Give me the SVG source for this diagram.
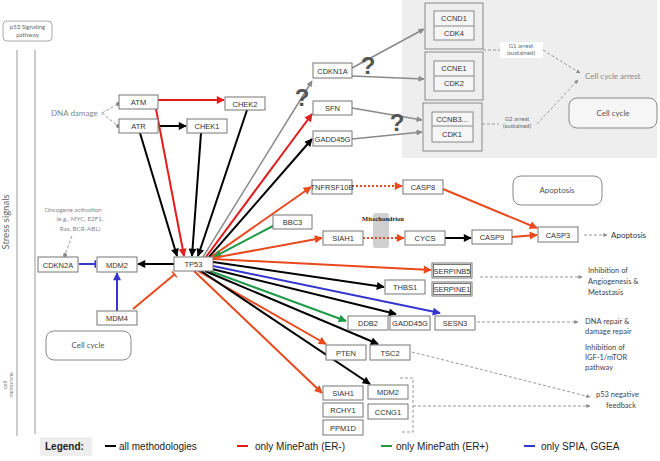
<svg xmlns="http://www.w3.org/2000/svg" width="660" height="461" viewBox="0 0 660 461">
<style>
.n rect{fill:#fff;stroke:#777;stroke-width:1}
.n text,.t{font-family:"Liberation Sans",Arial,sans-serif;font-size:7.5px;fill:#333;text-anchor:middle}
.lb{font-family:Lato,"Noto Sans",sans-serif}
.c line,.c path{fill:none;stroke-width:2}
.k{stroke:#000}.r{stroke:#e31d1d}.o{stroke:#e8491d}.g{stroke:#1f9a48}.b{stroke:#3535d0}.gr{stroke:#8a8a8a;stroke-width:1.5!important}
.d{stroke:#999;stroke-width:1!important;stroke-dasharray:3 2}
.dot{stroke-dasharray:2 2}
.q{font-family:"Liberation Sans",Arial,sans-serif;font-size:24px;font-weight:bold;fill:#555;text-anchor:middle}
.lg{font-family:"Liberation Sans",Arial,sans-serif;font-size:10px;fill:#222}
</style>
<defs>
<marker id="ak" viewBox="0 0 10 10" refX="9" refY="5" markerWidth="10" markerHeight="8" markerUnits="userSpaceOnUse" orient="auto"><path d="M0,0L10,5L0,10z" fill="#000"/></marker>
<marker id="ar" viewBox="0 0 10 10" refX="9" refY="5" markerWidth="10" markerHeight="8" markerUnits="userSpaceOnUse" orient="auto"><path d="M0,0L10,5L0,10z" fill="#e31d1d"/></marker>
<marker id="ao" viewBox="0 0 10 10" refX="9" refY="5" markerWidth="10" markerHeight="8" markerUnits="userSpaceOnUse" orient="auto"><path d="M0,0L10,5L0,10z" fill="#e8491d"/></marker>
<marker id="ag" viewBox="0 0 10 10" refX="9" refY="5" markerWidth="10" markerHeight="8" markerUnits="userSpaceOnUse" orient="auto"><path d="M0,0L10,5L0,10z" fill="#1f9a48"/></marker>
<marker id="ab" viewBox="0 0 10 10" refX="9" refY="5" markerWidth="10" markerHeight="8" markerUnits="userSpaceOnUse" orient="auto"><path d="M0,0L10,5L0,10z" fill="#3535d0"/></marker>
<marker id="agr" viewBox="0 0 10 10" refX="9" refY="5" markerWidth="8" markerHeight="6" markerUnits="userSpaceOnUse" orient="auto"><path d="M0,0L10,5L0,10z" fill="#8a8a8a"/></marker>
<marker id="ad" viewBox="0 0 10 10" refX="9" refY="5" markerWidth="5" markerHeight="4" markerUnits="userSpaceOnUse" orient="auto"><path d="M0,0L10,5L0,10z" fill="#888"/></marker>
<marker id="dt" viewBox="0 0 10 10" refX="5" refY="5" markerWidth="4" markerHeight="4" markerUnits="userSpaceOnUse"><circle cx="5" cy="5" r="5" fill="#888"/></marker>
<marker id="tb" viewBox="0 0 4 10" refX="3" refY="5" markerWidth="3" markerHeight="10" markerUnits="userSpaceOnUse" orient="auto"><path d="M2,0V10" stroke="#3535d0" stroke-width="2"/></marker>
<marker id="to" viewBox="0 0 4 10" refX="3" refY="5" markerWidth="3" markerHeight="10" markerUnits="userSpaceOnUse" orient="auto"><path d="M2,0V10" stroke="#e8491d" stroke-width="2"/></marker>
</defs>
<rect width="660" height="461" fill="#fff"/>
<rect x="402" y="0" width="255" height="158" fill="#eeeeee"/>
<rect x="3" y="21" width="49" height="20" rx="4" fill="#fff" stroke="#aaa"/>
<text class="lb" x="27.5" y="29" font-size="6" text-anchor="middle" fill="#666">p53 Signaling</text>
<text class="lb" x="27.5" y="37" font-size="6" text-anchor="middle" fill="#666">pathway</text>
<line x1="17" y1="50" x2="17" y2="436" stroke="#999"/>
<line x1="35" y1="50" x2="35" y2="434" stroke="#999"/>
<text class="lb" transform="translate(9,222) rotate(-90)" font-size="9.5" text-anchor="middle" fill="#666">Stress signals</text>
<text class="lb" transform="translate(7,385) rotate(-90)" font-size="5.5" text-anchor="middle" fill="#777">cell</text>
<text class="lb" transform="translate(13,385) rotate(-90)" font-size="5.5" text-anchor="middle" fill="#777">membrane</text>
<text class="lb" x="51" y="116" font-size="8" fill="#888">DNA damage</text>
<text class="lb" x="73" y="212" font-size="6.3" text-anchor="middle" fill="#888">Oncogene activation</text>
<text class="lb" x="80" y="221" font-size="6.3" text-anchor="middle" fill="#888">(e.g., MYC, E2F1,</text>
<text class="lb" x="80" y="231" font-size="6.3" text-anchor="middle" fill="#888">Ras, BCR-ABL)</text>
<g id="cx1"><rect x="425" y="3" width="58" height="46" fill="none" stroke="#888"/><rect x="434" y="11" width="40" height="29" fill="#f6f6f6" stroke="#888"/><line x1="434" y1="26" x2="474" y2="26" stroke="#888"/><text class="t" x="454" y="21">CCND1</text><text class="t" x="454" y="36">CDK4</text></g>
<g id="cx2"><rect x="425" y="52" width="58" height="48" fill="none" stroke="#888"/><rect x="434" y="61" width="40" height="30" fill="#f6f6f6" stroke="#888"/><line x1="434" y1="76" x2="474" y2="76" stroke="#888"/><text class="t" x="454" y="71">CCNE1</text><text class="t" x="454" y="86">CDK2</text></g>
<g id="cx3"><rect x="423" y="103" width="59" height="48" fill="none" stroke="#888"/><rect x="432" y="112" width="41" height="30" fill="#f6f6f6" stroke="#888"/><line x1="432" y1="126" x2="473" y2="126" stroke="#888"/><text class="t" x="452" y="122">CCNB3...</text><text class="t" x="452" y="137">CDK1</text></g>
<rect x="500" y="42" width="43" height="16" fill="#fff"/>
<text class="lb" x="521" y="48" font-size="6" text-anchor="middle" fill="#666">G1 arrest</text>
<text class="lb" x="521" y="55" font-size="6" text-anchor="middle" fill="#666">(sustained)</text>
<text class="lb" x="517" y="121" font-size="6" text-anchor="middle" fill="#666">G2 arrest</text>
<text class="lb" x="517" y="128" font-size="6" text-anchor="middle" fill="#666">(sustained)</text>
<text class="lb" x="585" y="79" font-size="8" fill="#888">Cell cycle arrest</text>
<g id="cellcycle1"><rect x="569" y="98" width="88" height="30" rx="8" fill="#f6f6f6" stroke="#888"/><text class="lb" x="613" y="116" font-size="8" text-anchor="middle" fill="#555">Cell cycle</text></g>
<g id="apoptosisbox"><rect x="513" y="176" width="89" height="29" rx="8" fill="#fff" stroke="#888"/><text class="lb" x="557" y="193" font-size="8" text-anchor="middle" fill="#555">Apoptosis</text></g>
<g id="cellcycle2"><rect x="46" y="331" width="85" height="29" rx="8" fill="#fff" stroke="#888"/><text class="lb" x="88" y="348" font-size="8" text-anchor="middle" fill="#555">Cell cycle</text></g>
<g id="mito"><rect x="373" y="213" width="16" height="35" rx="3" fill="#cfcfcf"/><text x="383" y="221" font-family="Liberation Serif,serif" font-size="6.5" font-weight="bold" text-anchor="middle" fill="#222">Mitochondrion</text></g>
<text class="lb" x="611" y="238" font-size="8" fill="#333">Apoptosis</text>
<text class="lb" x="588" y="273" font-size="7.5" fill="#444">Inhibition of</text>
<text class="lb" x="588" y="284" font-size="7.5" fill="#444">Angiogenesis &amp;</text>
<text class="lb" x="588" y="295" font-size="7.5" fill="#444">Metastasis</text>
<text class="lb" x="585" y="324" font-size="7.5" fill="#444">DNA repair &amp;</text>
<text class="lb" x="585" y="334" font-size="7.5" fill="#444">damage repair</text>
<text class="lb" x="585" y="350" font-size="7.5" fill="#444">Inhibition of</text>
<text class="lb" x="585" y="360" font-size="7.5" fill="#444">IGF-1/mTOR</text>
<text class="lb" x="585" y="370" font-size="7.5" fill="#444">pathway</text>
<text class="lb" x="596" y="397" font-size="7.5" fill="#444">p53 negative</text>
<text class="lb" x="606" y="408" font-size="7.5" fill="#444">feedback</text>
<g id="connectors" class="c">
<line class="d" x1="102" y1="113" x2="118" y2="104" marker-end="url(#dt)"/>
<line class="d" x1="102" y1="113" x2="118" y2="126" marker-end="url(#dt)"/>
<line class="d" x1="72" y1="236" x2="65" y2="255" marker-end="url(#dt)"/>
<line class="r" x1="158" y1="100" x2="224" y2="100" marker-end="url(#ar)"/>
<line class="k" x1="158" y1="126" x2="186" y2="126" marker-end="url(#ak)"/>
<line class="r" x1="156" y1="109" x2="184" y2="256" marker-end="url(#ar)"/>
<line class="k" x1="140" y1="133" x2="177" y2="256" marker-end="url(#ak)"/>
<line class="k" x1="201" y1="133" x2="192" y2="256" marker-end="url(#ak)"/>
<line class="k" x1="247" y1="110" x2="198" y2="256" marker-end="url(#ak)"/>
<line class="gr" x1="203" y1="257" x2="312" y2="81" marker-end="url(#agr)"/>
<line class="r" x1="206" y1="257" x2="312" y2="114" marker-end="url(#ar)"/>
<line class="k" x1="209" y1="257" x2="312" y2="139" marker-end="url(#ak)"/>
<line class="gr" x1="352" y1="68" x2="424" y2="29" marker-end="url(#agr)"/>
<line class="gr" x1="352" y1="76" x2="424" y2="79" marker-end="url(#agr)"/>
<line class="gr" x1="352" y1="108" x2="422" y2="120" marker-end="url(#agr)"/>
<line class="gr" x1="352" y1="139" x2="422" y2="132" marker-end="url(#agr)"/>
<line class="d" x1="483" y1="50" x2="500" y2="50"/>
<line class="d" x1="543" y1="50" x2="580" y2="73" marker-end="url(#ad)"/>
<line class="d" x1="482" y1="124" x2="499" y2="124"/>
<line class="d" x1="537" y1="124" x2="578" y2="80" marker-end="url(#ad)"/>
<line class="k" x1="174" y1="264" x2="138" y2="264" marker-end="url(#ak)"/>
<line class="b" x1="79" y1="264" x2="96" y2="264" marker-end="url(#tb)"/>
<line class="b" x1="117" y1="311" x2="117" y2="273" marker-end="url(#ab)"/>
<line class="o" x1="133" y1="309" x2="175" y2="274" marker-end="url(#to)"/>
<line class="o" x1="211" y1="257" x2="311" y2="187" marker-end="url(#ao)"/>
<line class="g" x1="273" y1="226" x2="214" y2="257" marker-end="url(#ag)"/>
<line class="o" x1="213" y1="258" x2="322" y2="238" marker-end="url(#ao)"/>
<line class="o" x1="213" y1="259" x2="431" y2="270" marker-end="url(#ao)"/>
<line class="k" x1="213" y1="262" x2="384" y2="287" marker-end="url(#ak)"/>
<line class="b" x1="213" y1="266" x2="440" y2="313" marker-end="url(#ab)"/>
<line class="k" x1="212" y1="269" x2="396" y2="314" marker-end="url(#ak)"/>
<line class="g" x1="210" y1="271" x2="346" y2="321" marker-end="url(#ag)"/>
<line class="k" x1="205" y1="271" x2="378" y2="344" marker-end="url(#ak)"/>
<line class="o" x1="198" y1="271" x2="326" y2="344" marker-end="url(#ao)"/>
<line class="k" x1="201" y1="271" x2="370" y2="384" marker-end="url(#ak)"/>
<line class="o" x1="194" y1="271" x2="322" y2="393" marker-end="url(#ao)"/>
<line class="o dot" x1="352" y1="186" x2="402" y2="186" marker-end="url(#ao)"/>
<line class="o dot" x1="363" y1="238" x2="404" y2="238" marker-end="url(#ao)"/>
<line class="k" x1="445" y1="238" x2="471" y2="238" marker-end="url(#ak)"/>
<line class="o" x1="512" y1="237" x2="537" y2="235" marker-end="url(#ao)"/>
<line class="o" x1="443" y1="189" x2="537" y2="228" marker-end="url(#ao)"/>
<line class="d" x1="584" y1="235" x2="607" y2="235" marker-end="url(#ad)"/>
<line class="d" x1="480" y1="277" x2="582" y2="277" marker-end="url(#ad)"/>
<line class="d" x1="477" y1="322" x2="578" y2="322" marker-end="url(#ad)"/>
<line class="d" x1="412" y1="352" x2="590" y2="397" marker-end="url(#ad)"/>
<path class="d" d="M400,378H413V432H402"/>
<line class="d" x1="413" y1="406" x2="590" y2="406" marker-end="url(#ad)"/>
</g>
<text class="q" x="302" y="106">?</text>
<text class="q" x="368" y="74">?</text>
<text class="q" x="397" y="131">?</text>
<g id="ATM" class="n"><rect x="119" y="95" width="39" height="14"/><text x="138.5" y="105">ATM</text></g>
<g id="ATR" class="n"><rect x="119" y="119" width="39" height="14"/><text x="138.5" y="129">ATR</text></g>
<g id="CHEK2" class="n"><rect x="225" y="97" width="40" height="13"/><text x="245" y="106.5">CHEK2</text></g>
<g id="CHEK1" class="n"><rect x="187" y="119" width="40" height="14"/><text x="207" y="129">CHEK1</text></g>
<g id="CDKN1A" class="n"><rect x="313" y="63" width="39" height="15"/><text x="332.5" y="73.5">CDKN1A</text></g>
<g id="SFN" class="n"><rect x="313" y="101" width="39" height="14"/><text x="332.5" y="111">SFN</text></g>
<g id="GADD45G" class="n"><rect x="313" y="131" width="39" height="15"/><text x="332.5" y="141.5">GADD45G</text></g>
<g id="TP53" class="n"><rect x="174" y="257" width="39" height="14"/><text x="193.5" y="267">TP53</text></g>
<g id="CDKN2A" class="n"><rect x="38" y="257" width="40" height="15"/><text x="58" y="267.5">CDKN2A</text></g>
<g id="MDM2" class="n"><rect x="97" y="257" width="40" height="15"/><text x="117" y="267.5">MDM2</text></g>
<g id="MDM4" class="n"><rect x="97" y="311" width="40" height="14"/><text x="117" y="321">MDM4</text></g>
<g id="TNFRSF10B" class="n"><rect x="312" y="180" width="40" height="14"/><text x="332" y="190">TNFRSF10B</text></g>
<g id="CASP8" class="n"><rect x="403" y="180" width="40" height="14"/><text x="423" y="190">CASP8</text></g>
<g id="BBC3" class="n"><rect x="273" y="215" width="39" height="14"/><text x="292.5" y="225">BBC3</text></g>
<g id="SIAH1" class="n"><rect x="323" y="231" width="40" height="14"/><text x="343" y="241">SIAH1</text></g>
<g id="CYCS" class="n"><rect x="405" y="231" width="40" height="14"/><text x="425" y="241">CYCS</text></g>
<g id="CASP9" class="n"><rect x="472" y="230" width="40" height="14"/><text x="492" y="240">CASP9</text></g>
<g id="CASP3" class="n"><rect x="538" y="227" width="40" height="15"/><text x="558" y="237.5">CASP3</text></g>
<g id="SERPINB5" class="n"><rect x="432" y="263" width="40" height="15"/><rect x="433.5" y="264.5" width="37" height="12"/><text x="452" y="273.5">SERPINB5</text></g>
<g id="SERPINE1" class="n"><rect x="432" y="282" width="40" height="14"/><rect x="433.5" y="283.5" width="37" height="11"/><text x="452" y="292">SERPINE1</text></g>
<g id="THBS1" class="n"><rect x="385" y="280" width="40" height="14"/><text x="405" y="290">THBS1</text></g>
<g id="DDB2" class="n"><rect x="348" y="316" width="40" height="14"/><text x="368" y="326">DDB2</text></g>
<g id="GADD45G_2" class="n"><rect x="390" y="316" width="40" height="14"/><text x="410" y="326">GADD45G</text></g>
<g id="SESN3" class="n"><rect x="435" y="316" width="40" height="14"/><text x="455" y="326">SESN3</text></g>
<g id="PTEN" class="n"><rect x="326" y="345" width="40" height="15"/><text x="346" y="355.5">PTEN</text></g>
<g id="TSC2" class="n"><rect x="370" y="345" width="40" height="15"/><text x="390" y="355.5">TSC2</text></g>
<g id="SIAH1_2" class="n"><rect x="323" y="386" width="40" height="14"/><text x="343" y="396">SIAH1</text></g>
<g id="RCHY1" class="n"><rect x="323" y="403" width="40" height="14"/><text x="343" y="413">RCHY1</text></g>
<g id="PPM1D" class="n"><rect x="323" y="420" width="40" height="15"/><text x="343" y="430.5">PPM1D</text></g>
<g id="MDM2_2" class="n"><rect x="368" y="385" width="40" height="14"/><text x="388" y="395">MDM2</text></g>
<g id="CCNG1" class="n"><rect x="368" y="404" width="40" height="15"/><text x="388" y="414.5">CCNG1</text></g>
<g id="legend">
<rect x="40" y="437" width="52" height="19" fill="#eeeeee"/>
<text class="lg" x="45" y="450" font-weight="bold">Legend:</text>
<line x1="105" y1="446" x2="116" y2="446" stroke="#000" stroke-width="2"/>
<text class="lg" x="119" y="450">all methodologies</text>
<line x1="237" y1="446" x2="248" y2="446" stroke="#e31d1d" stroke-width="2"/>
<text class="lg" x="255" y="450">only MinePath (ER-)</text>
<line x1="381" y1="446" x2="392" y2="446" stroke="#1f9a48" stroke-width="2"/>
<text class="lg" x="396" y="450">only MinePath (ER+)</text>
<line x1="524" y1="446" x2="535" y2="446" stroke="#3535d0" stroke-width="2"/>
<text class="lg" x="541" y="450">only SPIA, GGEA</text>
</g>
</svg>
